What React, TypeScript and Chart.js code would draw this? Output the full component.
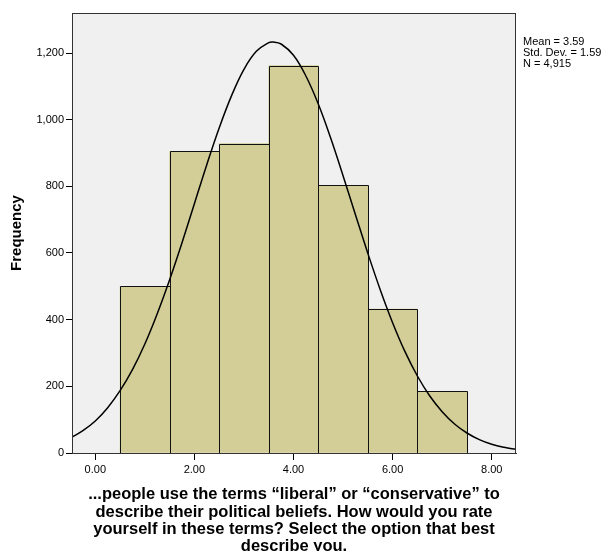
import React, { useEffect, useRef } from "react";
import { Chart, registerables } from "chart.js";

Chart.register(...registerables);

// Histogram bins (bin centres) and frequencies
const binCenters = [1, 2, 3, 4, 5, 6, 7];
const frequencies = [500, 905, 928, 1162, 803, 432, 185];

// Fitted normal curve
const curveX = [
  -0.5, -0.25, 0, 0.25, 0.5, 0.75, 1, 1.25, 1.5, 1.75, 2, 2.25, 2.5, 2.75, 3, 3.25, 3.5, 3.59, 3.75, 4,
  4.25, 4.5, 4.75, 5, 5.25, 5.5, 5.75, 6, 6.25, 6.5, 6.75, 7, 7.25, 7.5, 7.75, 8, 8.25, 8.5,
];
const curveY = [
  45, 67, 96, 136, 187, 250, 327, 418, 520, 631, 748, 865, 975, 1072, 1151, 1205, 1231, 1233, 1227, 1193,
  1131, 1047, 945, 832, 715, 599, 490, 391, 304, 231, 171, 124, 87, 60, 40, 26, 17, 11,
];

const xTicks = [0, 2, 4, 6, 8];
const yTicks = [0, 200, 400, 600, 800, 1000, 1200];

const statsLines = ["Mean = 3.59", "Std. Dev. = 1.59", "N = 4,915"];

const xTitle = [
  "...people use the terms \u201cliberal\u201d or \u201cconservative\u201d to",
  "describe their political beliefs. How would you rate",
  "yourself in these terms? Select the option that best",
  "describe you.",
];
const yTitle = "Frequency";

const FONT = "Arial, 'Liberation Sans', sans-serif";

export default function App() {
  const ref = useRef<HTMLCanvasElement | null>(null);

  useEffect(() => {
    if (!ref.current) return;
    const panelPlugin = {
      id: "panel",
      beforeDraw(chart: any) {
        const { ctx, chartArea: a } = chart;
        ctx.save();
        ctx.fillStyle = "#F0F0F0";
        ctx.fillRect(a.left, a.top, a.right - a.left, a.bottom - a.top);
        ctx.restore();
      },
      afterDatasetDraw(chart: any, args: any) {
        const meta = args.meta;
        if (meta.type !== "bar") return;
        const { ctx } = chart;
        ctx.save();
        ctx.strokeStyle = "#111";
        ctx.lineWidth = 1;
        meta.data.forEach((el: any) => {
          const p = el.getProps(["x", "y", "base", "width"], true);
          const l = Math.round(p.x - p.width / 2) + 0.5;
          const r = Math.round(p.x + p.width / 2) + 0.5;
          const t = Math.round(p.y) + 0.5;
          const b = Math.round(p.base);
          ctx.beginPath();
          ctx.moveTo(l, b);
          ctx.lineTo(l, t);
          ctx.lineTo(r, t);
          ctx.lineTo(r, b);
          ctx.stroke();
        });
        ctx.restore();
      },
      afterDraw(chart: any) {
        const { ctx, chartArea: a } = chart;
        ctx.save();
        ctx.strokeStyle = "#333333";
        ctx.lineWidth = 1;
        ctx.strokeRect(a.left + 0.5, a.top + 0.5, a.right - a.left - 1, a.bottom - a.top);
        ctx.fillStyle = "#000";
        ctx.font = "11px " + FONT;
        ctx.textBaseline = "middle";
        ctx.textAlign = "left";
        statsLines.forEach((t, i) => ctx.fillText(t, a.right + 7, 42 + i * 11));
        ctx.restore();
      },
    };

    const chart = new Chart(ref.current, {
      data: {
        datasets: [
          {
            type: "line",
            data: curveX.map((x, i) => ({ x, y: curveY[i] })),
            borderColor: "#000",
            borderWidth: 1.5,
            pointRadius: 0,
            tension: 0.4,
            order: 0,
          } as any,
          {
            type: "bar",
            data: binCenters.map((x, i) => ({ x, y: frequencies[i] })),
            backgroundColor: "#D3CE97",
            borderWidth: 0,
            barPercentage: 1,
            categoryPercentage: 1,
            grouped: false,
            order: 1,
          } as any,
        ],
      },
      options: {
        animation: false,
        responsive: false,
        events: [],
        layout: { padding: { left: 0, right: 96, top: 13, bottom: 0 } },
        plugins: { legend: { display: false }, tooltip: { enabled: false } },
        scales: {
          x: {
            type: "linear",
            min: -0.47,
            max: 8.49,
            offset: false,
            afterFit: (s: any) => {
              s.height = 98;
            },
            afterBuildTicks: (s: any) => {
              s.ticks = xTicks.map((v) => ({ value: v }));
            },
            ticks: {
              color: "#000",
              font: { size: 11, family: FONT },
              padding: 3,
              maxRotation: 0,
              callback: (v: any) => Number(v).toFixed(2),
            },
            grid: { offset: false, drawOnChartArea: false, drawTicks: true, tickLength: 7, color: "#000" },
            border: { display: true, color: "#333" },
            title: {
              display: true,
              text: xTitle,
              color: "#000",
              font: { size: 16.5, weight: "bold", family: FONT, lineHeight: 1.04 },
              padding: { top: 0, bottom: -4 },
            },
          },
          y: {
            type: "linear",
            min: 0,
            max: 1320,
            afterFit: (s: any) => {
              s.width = 72;
            },
            afterBuildTicks: (s: any) => {
              s.ticks = yTicks.map((v) => ({ value: v }));
            },
            ticks: {
              color: "#000",
              font: { size: 11, family: FONT },
              padding: 2,
              callback: (v: any) => Number(v).toLocaleString("en-US"),
            },
            grid: { drawOnChartArea: false, drawTicks: true, tickLength: 6, color: "#000" },
            border: { display: true, color: "#333" },
            title: {
              display: true,
              text: yTitle,
              color: "#000",
              font: { size: 15, weight: "bold", family: FONT },
              padding: { top: 8, bottom: 0 },
            },
          },
        },
      },
      plugins: [panelPlugin],
    } as any);
    return () => chart.destroy();
  }, []);

  return (
    <div style={{ position: "absolute", left: 0, top: 0, width: 612, height: 551, background: "#fff" }}>
      <canvas ref={ref} width={612} height={551} style={{ width: 612, height: 551 }} />
    </div>
  );
}
